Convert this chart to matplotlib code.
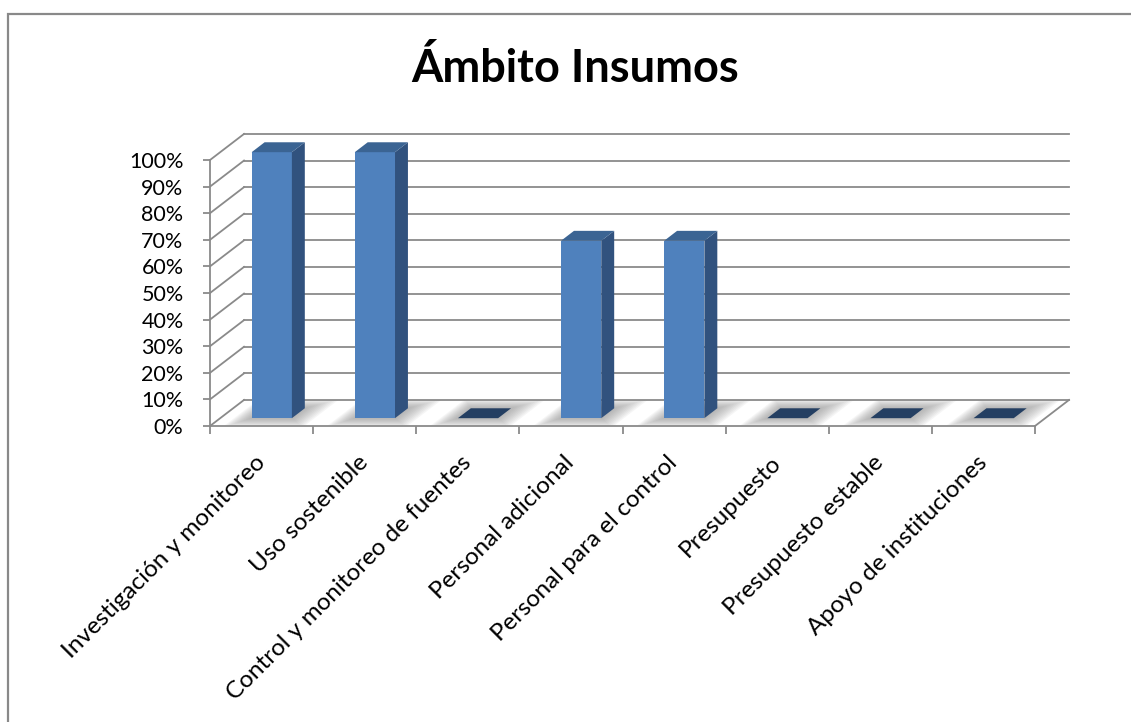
import matplotlib.pyplot as plt
from matplotlib.patches import Polygon

plt.rcParams['font.family'] = ['Lato', 'DejaVu Sans']

# datos
categorias = ['Investigación y monitoreo', 'Uso sostenible', 'Control y monitoreo de fuentes',
              'Personal adicional', 'Personal para el control', 'Presupuesto',
              'Presupuesto estable', 'Apoyo de instituciones']
valores = [100, 100, 0, 66.7, 66.7, 0, 0, 0]
niveles = [0, 10, 20, 30, 40, 50, 60, 70, 80, 90, 100]
etiquetas_y = ['0%', '10%', '20%', '30%', '40%', '50%', '60%', '70%', '80%', '90%', '100%']
titulo = 'Ámbito Insumos'

# colores estilo Excel
c_frente = '#4F81BD'
c_lado = '#31527E'
c_tapa = '#3B6493'
c_cero = '#243F62'
c_grid = '#8A8A8A'

# desplazamiento de profundidad (oblicuo) en unidades de datos
DX = 0.33
DY = 9.8

def proj(x, y, d):
    return (x + d * DX, y + d * DY)

W, H = 1131, 722
fig = plt.figure(figsize=(W / 100, H / 100), dpi=100)
ax = fig.add_axes([210 / W, (H - 426) / H, 825 / W, 266 / H])
ax.set_xlim(0, len(categorias))
ax.set_ylim(0, 100)

# borde del grafico
fig.patches.append(plt.Rectangle((8 / W, -0.1), 1.2, (H - 14) / H + 0.1, transform=fig.transFigure,
                                 fill=False, edgecolor='#898989', lw=1.6, zorder=0))

# pared del fondo y pared izquierda
n = len(categorias)
for lv in niveles:
    x0, y0 = proj(0, lv, 1)
    x1, y1 = proj(n, lv, 1)
    ax.plot([x0, x1], [y0, y1], color=c_grid, lw=1.3, clip_on=False, zorder=1)
    ax.plot([0, x0], [lv, y0], color=c_grid, lw=1.3, clip_on=False, zorder=1)
# borde derecho del piso
xa, ya = proj(n, 0, 1)
ax.plot([n, xa], [0, ya], color=c_grid, lw=1.3, clip_on=False, zorder=1)

# barras 3D
ancho = 0.39
d0, d1 = 0.3, 0.68
for i, v in enumerate(valores):
    xl = i + 0.5 - ancho / 2
    xr = i + 0.5 + ancho / 2
    # sombra difusa en el piso
    for k in range(10):
        s = 1 - k / 10
        sl = xl - 0.17 * s
        sr = xr + 0.22 * s
        sd0 = max(d0 - 0.35 * s, 0.02)
        sd1 = min(d1 + 0.35 * s, 0.98)
        pts = [proj(sl, 0, sd0), proj(sr, 0, sd0), proj(sr, 0, sd1), proj(sl, 0, sd1)]
        ax.add_patch(Polygon(pts, closed=True, facecolor='#7F7F7F', edgecolor='none',
                             alpha=0.07, clip_on=False, zorder=2))
    if v > 0:
        frente = [proj(xl, 0, d0), proj(xr, 0, d0), proj(xr, v, d0), proj(xl, v, d0)]
        lado = [proj(xr, 0, d0), proj(xr, 0, d1), proj(xr, v, d1), proj(xr, v, d0)]
        tapa = [proj(xl, v, d0), proj(xr, v, d0), proj(xr, v, d1), proj(xl, v, d1)]
        ax.add_patch(Polygon(frente, closed=True, facecolor=c_frente, edgecolor='none', clip_on=False, zorder=3))
        ax.add_patch(Polygon(lado, closed=True, facecolor=c_lado, edgecolor='none', clip_on=False, zorder=3))
        ax.add_patch(Polygon(tapa, closed=True, facecolor=c_tapa, edgecolor='none', clip_on=False, zorder=3))
    else:
        tapa = [proj(xl, 0, d0), proj(xr, 0, d0), proj(xr, 0, d1), proj(xl, 0, d1)]
        ax.add_patch(Polygon(tapa, closed=True, facecolor=c_cero, edgecolor='none', clip_on=False, zorder=3))

# ejes
for lado_spine in ['top', 'right']:
    ax.spines[lado_spine].set_visible(False)
for lado_spine in ['left', 'bottom']:
    ax.spines[lado_spine].set_color(c_grid)
    ax.spines[lado_spine].set_linewidth(1.3)
    ax.spines[lado_spine].set_zorder(4)
ax.patch.set_visible(False)

ax.set_yticks(niveles)
ax.set_yticklabels(etiquetas_y, fontsize=15.5)
ax.tick_params(axis='y', direction='out', length=5, width=1.3, color=c_grid, pad=14)

ax.set_xticks(range(n + 1))
ax.set_xticklabels([])
ax.set_xticks([i + 0.5 for i in range(n)], minor=True)
ax.set_xticklabels(categorias, minor=True, fontsize=17.5, rotation=45,
                   ha='right', va='center', rotation_mode='anchor')
ax.tick_params(axis='x', which='major', direction='out', length=6, width=1.3, color=c_grid)
ax.tick_params(axis='x', which='minor', length=0, pad=24)

fig.text(575 / W, 1 - 68 / H, titulo, ha='center', va='center', fontsize=32.5, fontweight='bold')

fig.savefig('out.png', dpi=100)
